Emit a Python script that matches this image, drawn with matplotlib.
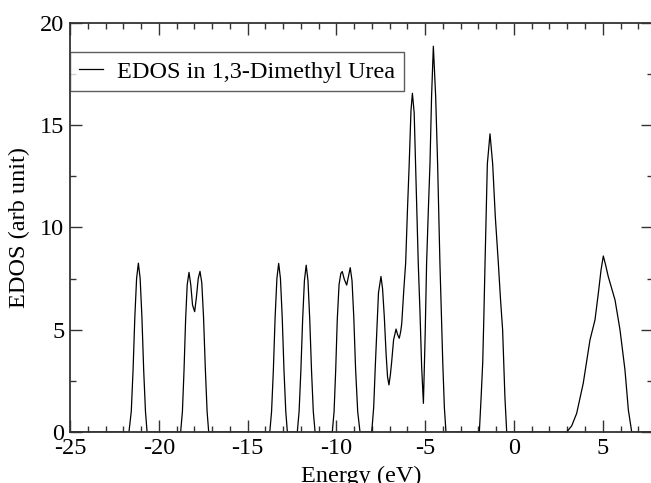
import matplotlib
matplotlib.use("Agg")
import matplotlib.pyplot as plt
from matplotlib.ticker import MultipleLocator

# ---- data (Energy in eV, EDOS in arb. unit) ----
energy = [
    -25.0,
    -21.68, -21.55, -21.45, -21.35, -21.25, -21.15, -21.05, -20.95, -20.85, -20.75, -20.66,
    -18.77, -18.67, -18.58, -18.49, -18.40, -18.30, -18.20, -18.10, -17.98, -17.88, -17.78,
    -17.68, -17.58, -17.48, -17.38, -17.28, -17.19,
    -13.75, -13.65, -13.55, -13.45, -13.35, -13.25, -13.15, -13.05, -12.95, -12.85, -12.76,
    -12.20, -12.10, -12.00, -11.90, -11.80, -11.70, -11.60, -11.50, -11.40, -11.30, -11.20,
    -10.23, -10.13, -10.04, -9.95, -9.85, -9.75, -9.67, -9.55, -9.42, -9.32, -9.22, -9.12,
    -9.02, -8.92, -8.80, -8.67,
    -8.01, -7.90, -7.80, -7.72, -7.63, -7.49, -7.40, -7.30, -7.20, -7.12, -7.04, -6.96,
    -6.89, -6.78, -6.64, -6.55, -6.46, -6.38, -6.32, -6.20, -6.10, -6.00, -5.90, -5.80,
    -5.72, -5.62, -5.54, -5.46, -5.39, -5.29, -5.20, -5.10, -5.00, -4.92, -4.82, -4.73,
    -4.64, -4.54, -4.41, -4.30, -4.17, -4.01, -3.92, -3.83,
    -1.95, -1.85, -1.76, -1.70, -1.63, -1.50, -1.35, -1.20, -1.05, -0.88, -0.76, -0.64,
    -0.51, -0.41,
    2.97, 3.25, 3.53, 3.90, 4.28, 4.56, 4.75, 4.90, 5.03, 5.15, 5.31, 5.69, 5.97, 6.25,
    6.44, 6.63,
    7.8,
]
edos = [
    0.0,
    0.0, 1.0, 3.0, 5.6, 7.5, 8.25, 7.5, 5.6, 3.0, 1.0, 0.0,
    0.0, 1.0, 3.0, 5.5, 7.2, 7.8, 7.2, 6.2, 5.88, 6.6, 7.5,
    7.85, 7.3, 5.6, 3.1, 1.0, 0.0,
    0.0, 1.0, 3.0, 5.6, 7.5, 8.24, 7.5, 5.6, 3.0, 1.0, 0.0,
    0.0, 1.0, 3.0, 5.5, 7.4, 8.15, 7.4, 5.5, 3.0, 1.0, 0.0,
    0.0, 1.0, 3.0, 5.5, 7.2, 7.75, 7.84, 7.45, 7.18, 7.6, 8.03, 7.4,
    5.6, 3.1, 1.0, 0.0,
    0.0, 1.2, 3.4, 5.0, 6.8, 7.6, 7.0, 5.6, 3.8, 2.7, 2.3, 2.8,
    3.4, 4.5, 5.03, 4.75, 4.58, 4.9, 5.3, 7.0, 8.25, 10.8, 13.1, 15.7,
    16.55, 15.6, 13.1, 10.5, 8.25, 5.8, 3.2, 1.4, 4.8, 8.25, 10.9, 13.1,
    16.4, 18.85, 16.4, 13.1, 8.25, 3.4, 1.2, 0.0,
    0.0, 1.7, 3.4, 5.5, 8.25, 13.1, 14.57, 13.1, 10.5, 8.24, 6.5, 5.0,
    1.7, 0.0,
    0.0, 0.3, 0.91, 2.38, 4.5, 5.47, 6.78, 7.9, 8.6, 8.2, 7.59, 6.45, 4.99, 3.03,
    1.08, 0.0,
    0.0,
]
series_label = "EDOS in 1,3-Dimethyl Urea"
x_label = "Energy (eV)"
y_label = "EDOS (arb unit)"
x_limits = (-25, 7.8)
y_limits = (0, 20)

plt.rcParams['font.family'] = ['Liberation Serif', 'DejaVu Serif']
plt.rcParams['axes.unicode_minus'] = False

W, H = 651, 483
fig = plt.figure(figsize=(W / 100, H / 100), dpi=100)
left_px, right_px, top_px, bottom_px = 70, 652.5, 22.7, 432
ax = fig.add_axes([left_px / W, (H - bottom_px) / H,
                   (right_px - left_px) / W, (bottom_px - top_px) / H])

ax.plot(energy, edos, color='black', lw=0.9, label=series_label)

ax.set_xlim(*x_limits)
ax.set_ylim(*y_limits)
ax.xaxis.set_major_locator(MultipleLocator(5))
ax.xaxis.set_minor_locator(MultipleLocator(1))
ax.yaxis.set_major_locator(MultipleLocator(5))
ax.yaxis.set_minor_locator(MultipleLocator(2.5))

ax.tick_params(which='both', direction='in', top=True, right=True,
               labelsize=17.5, color='#333333', width=1.0)
ax.tick_params(which='major', length=8.3)
ax.tick_params(which='minor', length=4.4)
ax.tick_params(axis='x', which='major', pad=4)
ax.tick_params(axis='y', which='major', pad=4)

for sp in ax.spines.values():
    sp.set_linewidth(1.3)
    sp.set_color('#333333')

ax.set_xlabel(x_label, fontsize=17.5, labelpad=5)
ax.set_ylabel(y_label, fontsize=17.5, labelpad=7)

leg = ax.legend(loc='upper left', bbox_to_anchor=(0.0, (bottom_px - 52) / (bottom_px - top_px)),
                fontsize=17.5, frameon=True, fancybox=False, handlelength=1.0,
                handletextpad=0.6, borderpad=0.35, borderaxespad=0.0)
frame = leg.get_frame()
frame.set_edgecolor('#333333')
frame.set_linewidth(1.0)

fig.savefig("out.png", dpi=100)
